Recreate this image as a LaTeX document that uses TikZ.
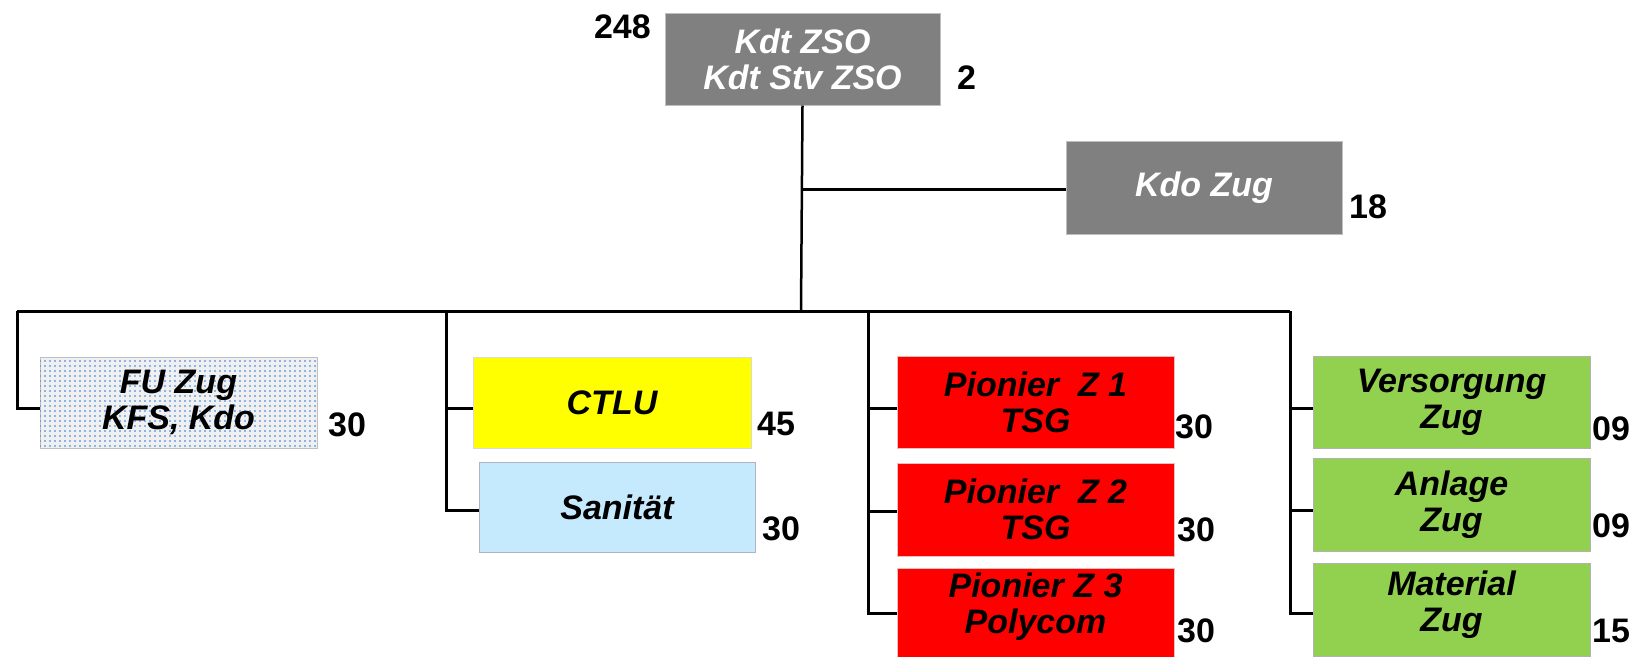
\documentclass[tikz,border=0pt]{standalone}
\usepackage{fontspec}
\setmainfont{Liberation Sans}
\usetikzlibrary{patterns}
\pgfdeclarepatternformonly{fudots}{\pgfqpoint{-1pt}{-1pt}}{\pgfqpoint{4pt}{4pt}}{\pgfqpoint{5pt}{5pt}}{\pgfpathcircle{\pgfqpoint{0pt}{0pt}}{0.9pt}\pgfusepath{fill}}
\definecolor{boxgray}{HTML}{808080}
\definecolor{boxyellow}{HTML}{FFFF00}
\definecolor{boxblue}{HTML}{C5EAFD}
\definecolor{boxred}{HTML}{FF0000}
\definecolor{boxgreen}{HTML}{92D050}
\definecolor{dotblue}{RGB}{40,120,220}
\begin{document}
\begin{tikzpicture}[x=1pt,y=-1pt,
  box/.style={draw=black!25, line width=1pt, inner sep=0pt, align=center,
    font=\fontsize{34}{36}\selectfont\bfseries\itshape},
  wbox/.style={box, minimum width=277pt, minimum height=92pt},
  lbl/.style={inner sep=0pt, align=center, font=\fontsize{34}{36}\selectfont\bfseries\itshape},
  num/.style={inner sep=0pt, font=\fontsize{34}{36}\selectfont\bfseries},
  conn/.style={line width=3pt, black}]
\useasboundingbox (0,0) rectangle (1640,656);
\fill[white] (0,0) rectangle (1640,656);

% boxes
\node[wbox, minimum width=275pt, fill=boxgray, text=white] (top) at (802.5,59) {Kdt ZSO\\Kdt Stv ZSO};
\node[wbox, minimum width=276pt, minimum height=93pt, fill=boxgray, text=white] (kdo) at (1204,187.5) {Kdo Zug};
\node[wbox, minimum height=91pt, fill=black!6, postaction={pattern=fudots, pattern color=dotblue}] (fu) at (178.5,402.5) {FU Zug\\KFS, Kdo};
\node[wbox, minimum width=278pt, minimum height=91pt, fill=boxyellow, draw=black!15] (ctlu) at (612,402.5) {CTLU};
\node[wbox, minimum width=276pt, minimum height=90pt, fill=boxblue, draw=blue!20!black!30] (san) at (617,507) {Sanität};
\node[wbox, fill=boxred, draw=red!60!black!25] (p1) at (1035.5,402) {Pionier\ \ Z 1\\TSG};
\node[wbox, minimum height=93pt, fill=boxred, draw=red!60!black!25] (p2) at (1035.5,509.5) {Pionier\ \ Z 2\\TSG};
\node[wbox, minimum height=93pt, fill=boxred, draw=red!60!black!25] (p3) at (1035.5,614.5) {};
\node[lbl] (p3t) at (1035.5,606.5) {Pionier Z 3\\Polycom};
\node[wbox, fill=boxgreen, draw=black!30] (ve) at (1451.5,402) {Versorgung\\Zug};
\node[wbox, minimum height=93pt, fill=boxgreen, draw=black!30] (an) at (1451.5,504.5) {Anlage\\Zug};
\node[wbox, minimum height=93pt, fill=boxgreen, draw=black!30] (ma) at (1451.5,609.5) {};
\node[lbl] (mat) at (1451.5,605) {Material\\Zug};

% numbers
\node[num, anchor=base east] (n248) at (651,38) {248};
\node[num, anchor=base west] (n2) at (957,89) {2};
\node[num, anchor=base west] (n18) at (1349,218) {18};
\node[num, anchor=base west] (nfu) at (328,436) {30};
\node[num, anchor=base west] (nct) at (757,435) {45};
\node[num, anchor=base west] (nsa) at (762,540) {30};
\node[num, anchor=base west] (np1) at (1175,438) {30};
\node[num, anchor=base west] (np2) at (1177,541) {30};
\node[num, anchor=base west] (np3) at (1177,642) {30};
\node[num, anchor=base west] (nve) at (1592,440) {09};
\node[num, anchor=base west] (nan) at (1592,537) {09};
\node[num, anchor=base west] (nma) at (1592,642) {15};

% connectors
\coordinate (bus) at (801,311);
\coordinate (c1) at (17,311);
\coordinate (c2) at (446,311);
\coordinate (c3) at (868,311);
\coordinate (c4) at (1290,311);
\draw[line width=2.5pt] (top.south) -- (bus);
\draw[conn] (top.south |- kdo.west) ++(0,1.5) -- ([yshift=-1.5pt]kdo.west);
\draw[conn] (c1) -- (c4);
\draw[conn] (c1) |- ([yshift=-5.5pt]fu.west);
\draw[conn] (c2) |- ([yshift=-5.5pt]ctlu.west);
\draw[conn] (c2) |- ([yshift=-3pt]san.west);
\draw[conn] (c3) |- ([yshift=-6pt]p1.west);
\draw[conn] (c3) |- ([yshift=-1.5pt]p2.west);
\draw[conn] (c3) |- ([yshift=1.5pt]p3.west);
\draw[conn] (c4) |- ([yshift=-6pt]ve.west);
\draw[conn] (c4) |- ([yshift=-5.5pt]an.west);
\draw[conn] (c4) |- ([yshift=-3.5pt]ma.west);
\end{tikzpicture}
\end{document}
